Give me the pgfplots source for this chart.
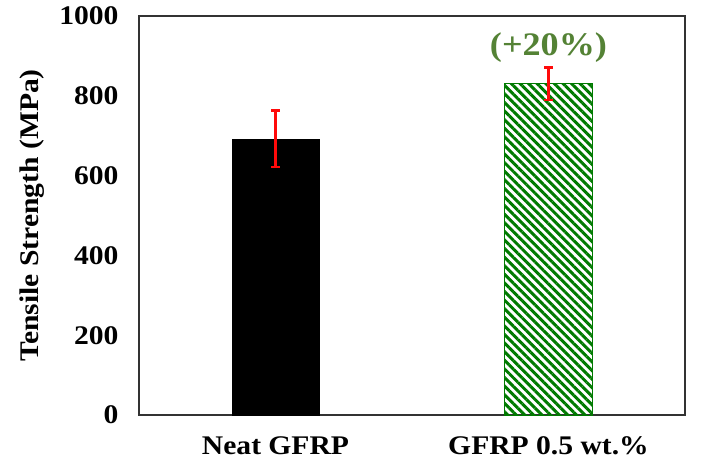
\documentclass[border=0pt]{standalone}
\usepackage{fontspec}
\setmainfont[FakeStretch=1.1]{Liberation Serif}
\usepackage{pgfplots}
\pgfplotsset{compat=1.18}
\usetikzlibrary{patterns.meta}
\definecolor{hatchgreen}{RGB}{0,122,0}
\definecolor{txtgreen}{RGB}{84,130,53}
\definecolor{errred}{RGB}{255,10,10}
\begin{document}
\begin{tikzpicture}
\begin{axis}[
 name=ax,
 scale only axis, width=546bp, height=399bp,
 xmin=-0.5, xmax=1.5, ymin=0, ymax=1000,
 xtick={0,1}, xticklabels={Neat GFRP, GFRP 0.5 wt.\%},
 ytick={0,200,400,600,800,1000},
 major tick length=0pt,
 axis line style={black!80, line width=1.3pt},
 /pgf/number format/assume math mode=true,
 /pgf/number format/1000 sep={},
 ticklabel style={font=\fontsize{27}{30}\selectfont\bfseries},
 yticklabel style={xshift=-17pt},
 xticklabel style={yshift=-18pt},
 ylabel={Tensile Strength (MPa)},
 every axis y label/.style={at={(axis description cs:-0.196,0.5)}, rotate=90, anchor=center, font=\fontsize{27}{30}\selectfont\bfseries},
 clip=false,
]
\addplot[ybar, bar width=0.32, bar shift=0pt, fill=black, draw=black] coordinates {(0,692)};
\addplot[ybar, bar width=0.32, bar shift=0pt, draw=hatchgreen, line width=1pt,
  pattern={Lines[angle=-45,distance=6.1pt,line width=3pt]}, pattern color=hatchgreen]
  coordinates {(1,830)};
% error bars (mean +- sd): 692 +- 71, 830 +- 41
\addplot[sharp plot, mark=none, draw=errred, line width=2.2pt, forget plot]
  coordinates {(-0.016,763) (0.016,763) (0,763) (0,621) (-0.016,621) (0.016,621)};
\addplot[sharp plot, mark=none, draw=errred, line width=2.2pt, forget plot]
  coordinates {(0.984,871) (1.016,871) (1,871) (1,789) (0.984,789) (1.016,789)};
\node[text=txtgreen, font=\fontsize{33}{36}\selectfont\bfseries] at (axis cs:1,922) {(+20\%)};
\end{axis}
\pgfresetboundingbox
\path[use as bounding box] ([xshift=-139bp,yshift=-51bp]ax.south west) rectangle ([xshift=17bp,yshift=16bp]ax.north east);
\end{tikzpicture}
\end{document}
